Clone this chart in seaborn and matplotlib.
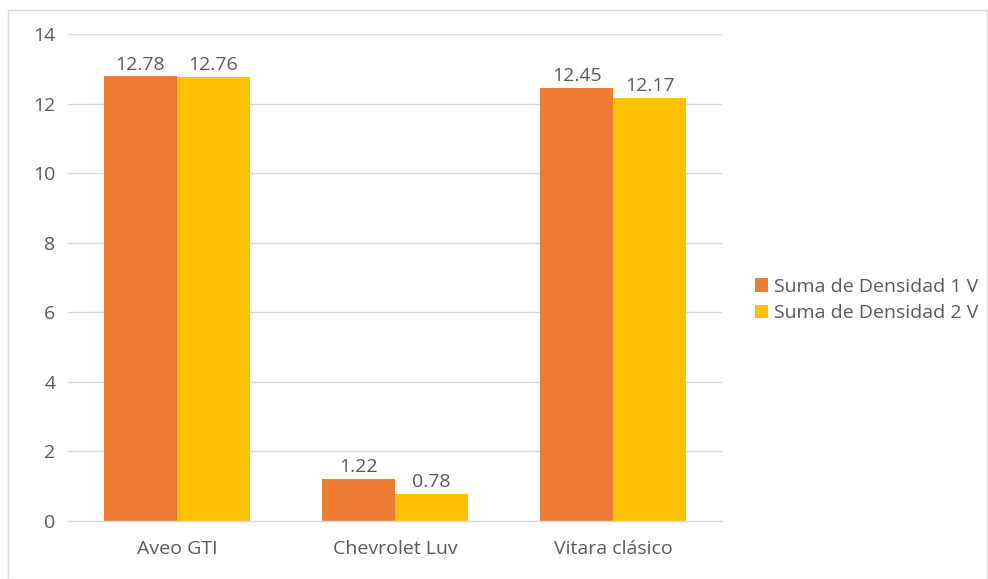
import matplotlib
matplotlib.use("Agg")
import matplotlib.pyplot as plt
import seaborn as sns
import pandas as pd
from matplotlib.patches import Rectangle

categories = ["Aveo GTI", "Chevrolet Luv", "Vitara clásico"]
series_names = ["Suma de Densidad 1 V", "Suma de Densidad 2 V"]
densidad_1 = [12.78, 1.22, 12.45]
densidad_2 = [12.76, 0.78, 12.17]
y_ticks = [0, 2, 4, 6, 8, 10, 12, 14]

df = pd.DataFrame({
    "categoria": categories * 2,
    "serie": [series_names[0]] * 3 + [series_names[1]] * 3,
    "valor": densidad_1 + densidad_2,
})

sns.set_theme(style="white")
plt.rcParams['font.family'] = ['Open Sans', 'DejaVu Sans']
text_color = "#595959"
fs = 14

fig = plt.figure(figsize=(9.88, 5.79), dpi=100)
ax = fig.add_axes([0.0688, 0.1002, 0.6620, 0.8410])

palette = {series_names[0]: "#ED7D31", series_names[1]: "#FFC000"}
sns.barplot(data=df, x="categoria", y="valor", hue="serie", order=categories,
            hue_order=series_names, palette=palette, width=0.67, gap=0,
            saturation=1, linewidth=0, ax=ax, legend=True)

for cont in ax.containers:
    ax.bar_label(cont, fmt="%.2f", padding=2, fontsize=fs, color=text_color)

ax.set_ylim(0, 14)
ax.set_xlim(-0.5, 2.5)
ax.set_yticks(y_ticks)
ax.yaxis.grid(True, color="#D9D9D9", linewidth=1)
ax.set_axisbelow(True)
for s in ["top", "right", "left"]:
    ax.spines[s].set_visible(False)
ax.spines["bottom"].set_color("#D9D9D9")
ax.spines["bottom"].set_linewidth(1)
ax.set_xlabel("")
ax.set_ylabel("")
ax.tick_params(axis="both", length=0, labelsize=fs, labelcolor=text_color)
ax.tick_params(axis="y", pad=9)
ax.tick_params(axis="x", pad=14)

handles, labels = ax.get_legend_handles_labels()
ax.legend_.remove()
fig.legend(handles, labels, loc="center left", bbox_to_anchor=(0.756, 0.482),
           frameon=False, fontsize=fs, labelcolor=text_color,
           handlelength=0.7, handleheight=0.7, handletextpad=0.3,
           labelspacing=0.45, borderaxespad=0)

fig.patches.append(Rectangle((8 / 988, 0), 1 - 8 / 988 - 1 / 988, 1 - 10 / 579,
                             transform=fig.transFigure, fill=False,
                             edgecolor="#D9D9D9", linewidth=1))

fig.savefig("out.png", dpi=100)
